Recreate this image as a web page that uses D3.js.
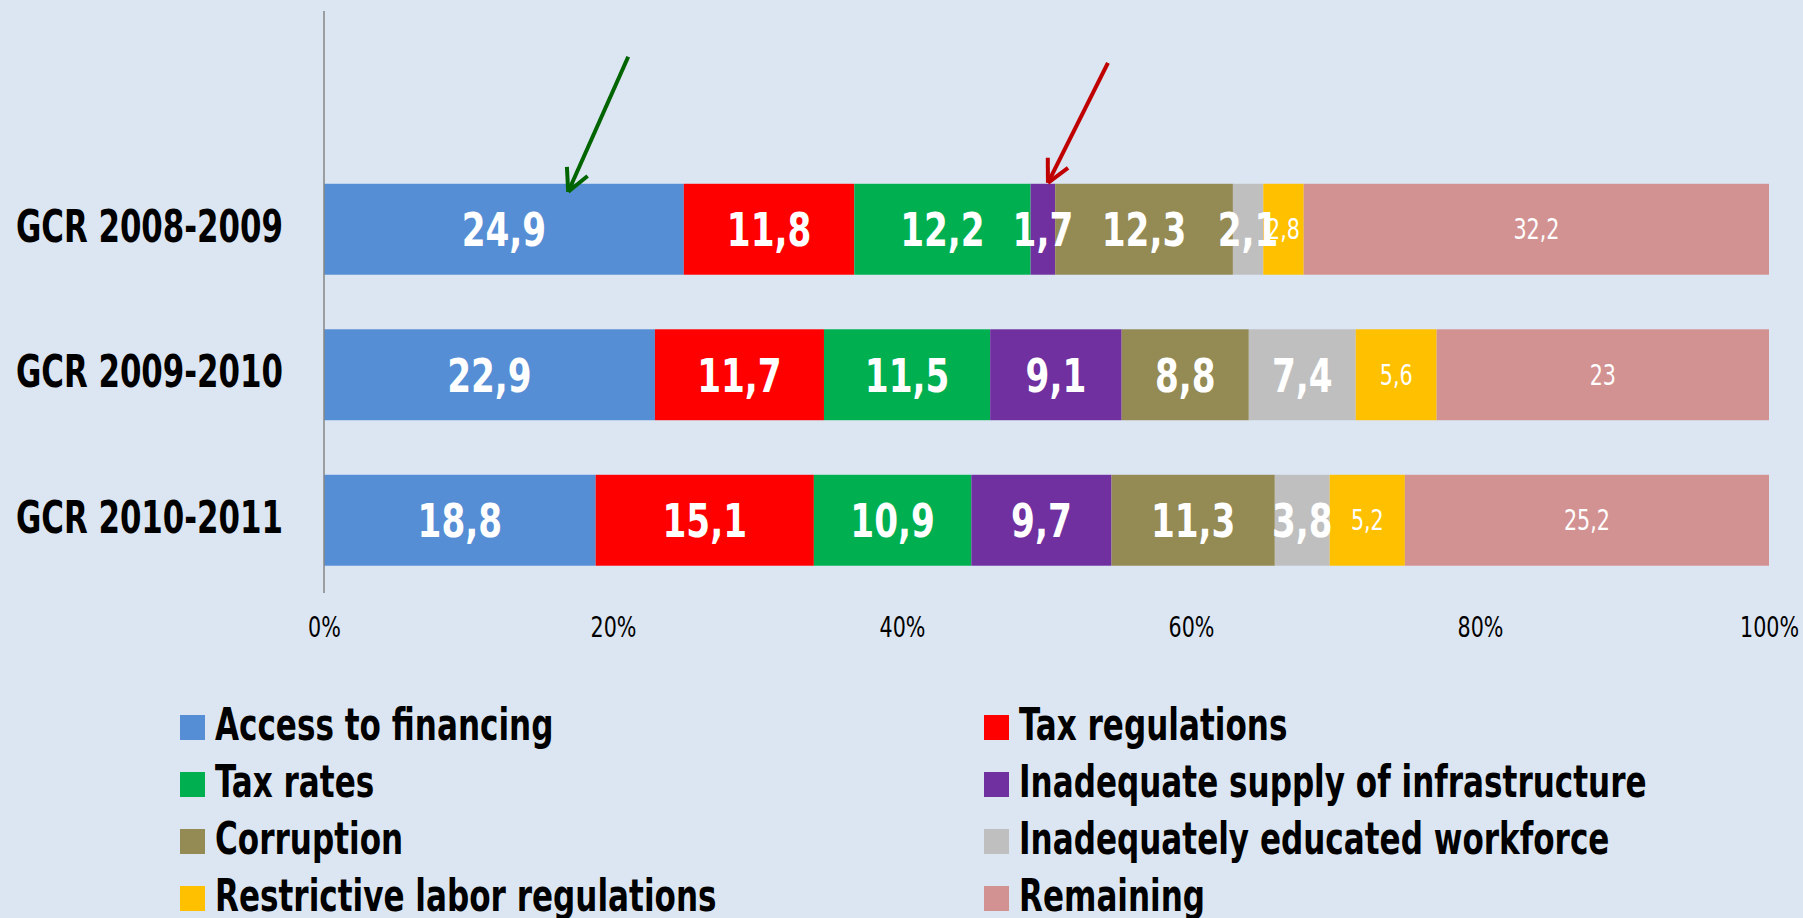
<!DOCTYPE html>
<html lang="en">
<head>
    <meta charset="UTF-8">
    <title>GCR most problematic factors</title>
    <script src="https://d3js.org/d3.v7.min.js"></script>
    <style>
        body {
            margin: 0;
            background: #DCE6F2;
        }
        svg text {
            font-family: "DejaVu Sans Condensed", "DejaVu Sans", sans-serif;
        }
    </style>
</head>
<body>
    <div id="chart"></div>
    <script>
        // Daten
        var categories = ["GCR 2008-2009", "GCR 2009-2010", "GCR 2010-2011"];
        var seriesNames = [
            "Access to financing", "Tax regulations", "Tax rates",
            "Inadequate supply of infrastructure", "Corruption",
            "Inadequately educated workforce", "Restrictive labor regulations", "Remaining"
        ];
        var seriesColors = ["#558ED5", "#FF0000", "#00B050", "#7030A0", "#948A54", "#BFBFBF", "#FFC000", "#D39292"];
        // Werte je Kategorie, in der Reihenfolge von seriesNames
        var values2008 = [24.9, 11.8, 12.2, 1.7, 12.3, 2.1, 2.8, 32.2];
        var values2009 = [22.9, 11.7, 11.5, 9.1, 8.8, 7.4, 5.6, 23];
        var values2010 = [18.8, 15.1, 10.9, 9.7, 11.3, 3.8, 5.2, 25.2];
        var tickValues = [0, 0.2, 0.4, 0.6, 0.8, 1];
        // kleine Beschriftung für diese Reihen
        var smallLabelSeries = ["Restrictive labor regulations", "Remaining"];
        // Pfeile (Anmerkungen), Position in Anteil der Achse
        var arrows = [
            {row: "GCR 2008-2009", at: 0.169, color: "#006400", dx: 60, dy: -135, off: 8},
            {row: "GCR 2008-2009", at: 0.501, color: "#C00000", dx: 60, dy: -120, off: -1}
        ];

        var width = 1803, height = 918;
        // Schrift schmaler machen (kein Narrow-Font installiert)
        var squeezeBold = 0.78, squeezeNormal = 0.82;

        function squeeze(sel, s) {
            sel.attr("transform", function() {
                var t = d3.select(this);
                return "translate(" + t.attr("x") + "," + t.attr("y") + ") scale(" + s + ",1)";
            })
            .attr("x", 0)
            .attr("y", 0);
        }

        // Tabelle für d3.stack bauen
        var allValues = [values2008, values2009, values2010];
        var table = categories.map(function(c, i) {
            var row = {category: c};
            seriesNames.forEach(function(s, j) { row[s] = allValues[i][j]; });
            return row;
        });

        var stack = d3.stack().keys(seriesNames).offset(d3.stackOffsetExpand);
        var layers = stack(table);

        var svg = d3.select("#chart").append("svg")
            .attr("width", width)
            .attr("height", height);

        svg.append("rect")
            .attr("width", width)
            .attr("height", height)
            .attr("fill", "#DCE6F2");

        var x = d3.scaleLinear().domain([0, 1]).range([324, 1769]);
        // oberster Platz bleibt leer (wie im Original)
        var y = d3.scaleBand()
            .domain([""].concat(categories))
            .range([11, 593])
            .paddingInner(0.375)
            .paddingOuter(0.1875);

        // Balken
        var layerG = svg.append("g").selectAll("g")
            .data(layers)
            .join("g")
            .attr("fill", function(d, i) { return seriesColors[i]; });

        layerG.selectAll("rect")
            .data(function(d) { return d; })
            .join("rect")
            .attr("x", function(d) { return x(d[0]); })
            .attr("y", function(d) { return y(d.data.category); })
            .attr("width", function(d) { return x(d[1]) - x(d[0]); })
            .attr("height", y.bandwidth());

        // Datenbeschriftungen
        var labelG = svg.append("g");
        layers.forEach(function(layer) {
            var small = smallLabelSeries.indexOf(layer.key) >= 0;
            var t = labelG.selectAll(null)
                .data(layer)
                .join("text")
                .attr("x", function(d) { return (x(d[0]) + x(d[1])) / 2; })
                .attr("y", function(d) { return y(d.data.category) + y.bandwidth() / 2; })
                .attr("dy", "0.36em")
                .attr("text-anchor", "middle")
                .attr("fill", "#fff")
                .attr("font-size", small ? 28 : 47)
                .attr("font-weight", small ? "normal" : "bold")
                .text(function(d) { return String(d.data[layer.key]).replace(".", ","); });
            squeeze(t, small ? squeezeNormal : 0.81);
        });

        // vertikale Achse
        svg.append("line")
            .attr("x1", x(0)).attr("x2", x(0))
            .attr("y1", y.range()[0]).attr("y2", y.range()[1])
            .attr("stroke", "#868686")
            .attr("stroke-width", 1.5);

        var catLabels = svg.append("g").selectAll("text")
            .data(categories)
            .join("text")
            .attr("x", 283)
            .attr("y", function(d) { return y(d) + y.bandwidth() / 2; })
            .attr("dy", "0.28em")
            .attr("text-anchor", "end")
            .attr("font-size", 44)
            .attr("font-weight", "bold")
            .attr("fill", "#000")
            .text(function(d) { return d; });
        squeeze(catLabels, squeezeBold);

        // x-Achse (nur Beschriftung)
        var xAxis = d3.axisBottom(x)
            .tickValues(tickValues)
            .tickFormat(d3.format(".0%"))
            .tickSize(0)
            .tickPadding(0);

        var xg = svg.append("g")
            .attr("transform", "translate(0,617)")
            .call(xAxis);
        xg.select(".domain").remove();
        xg.selectAll("text")
            .attr("font-size", 28)
            .attr("font-family", null)
            .attr("fill", "#000")
            .attr("dy", "0.72em")
            .attr("transform", "scale(" + squeezeNormal + ",1)");

        // Pfeile
        arrows.forEach(function(a) {
            var tipX = x(a.at);
            var tipY = y(a.row) + a.off;
            var g = svg.append("g")
                .attr("stroke", a.color)
                .attr("stroke-width", 4)
                .attr("fill", "none");
            g.append("line")
                .attr("x1", tipX + a.dx).attr("y1", tipY + a.dy)
                .attr("x2", tipX).attr("y2", tipY);
            var ang = Math.atan2(a.dy, a.dx);
            [-0.47, 0.47].forEach(function(t) {
                g.append("line")
                    .attr("x1", tipX).attr("y1", tipY)
                    .attr("x2", tipX + 25 * Math.cos(ang + t))
                    .attr("y2", tipY + 25 * Math.sin(ang + t));
            });
        });

        // Legende, zwei Spalten
        var legend = svg.append("g").selectAll("g")
            .data(seriesNames)
            .join("g")
            .attr("transform", function(d, i) {
                var col = i % 2, row = Math.floor(i / 2);
                return "translate(" + (col === 0 ? 180 : 984) + "," + (715 + row * 57) + ")";
            });

        legend.append("rect")
            .attr("width", 25)
            .attr("height", 25)
            .attr("fill", function(d, i) { return seriesColors[i]; });

        var legText = legend.append("text")
            .attr("x", 35)
            .attr("y", 25)
            .attr("font-size", 44)
            .attr("font-weight", "bold")
            .attr("fill", "#000")
            .text(function(d) { return d; });
        squeeze(legText, 0.785);
    </script>
</body>
</html>
